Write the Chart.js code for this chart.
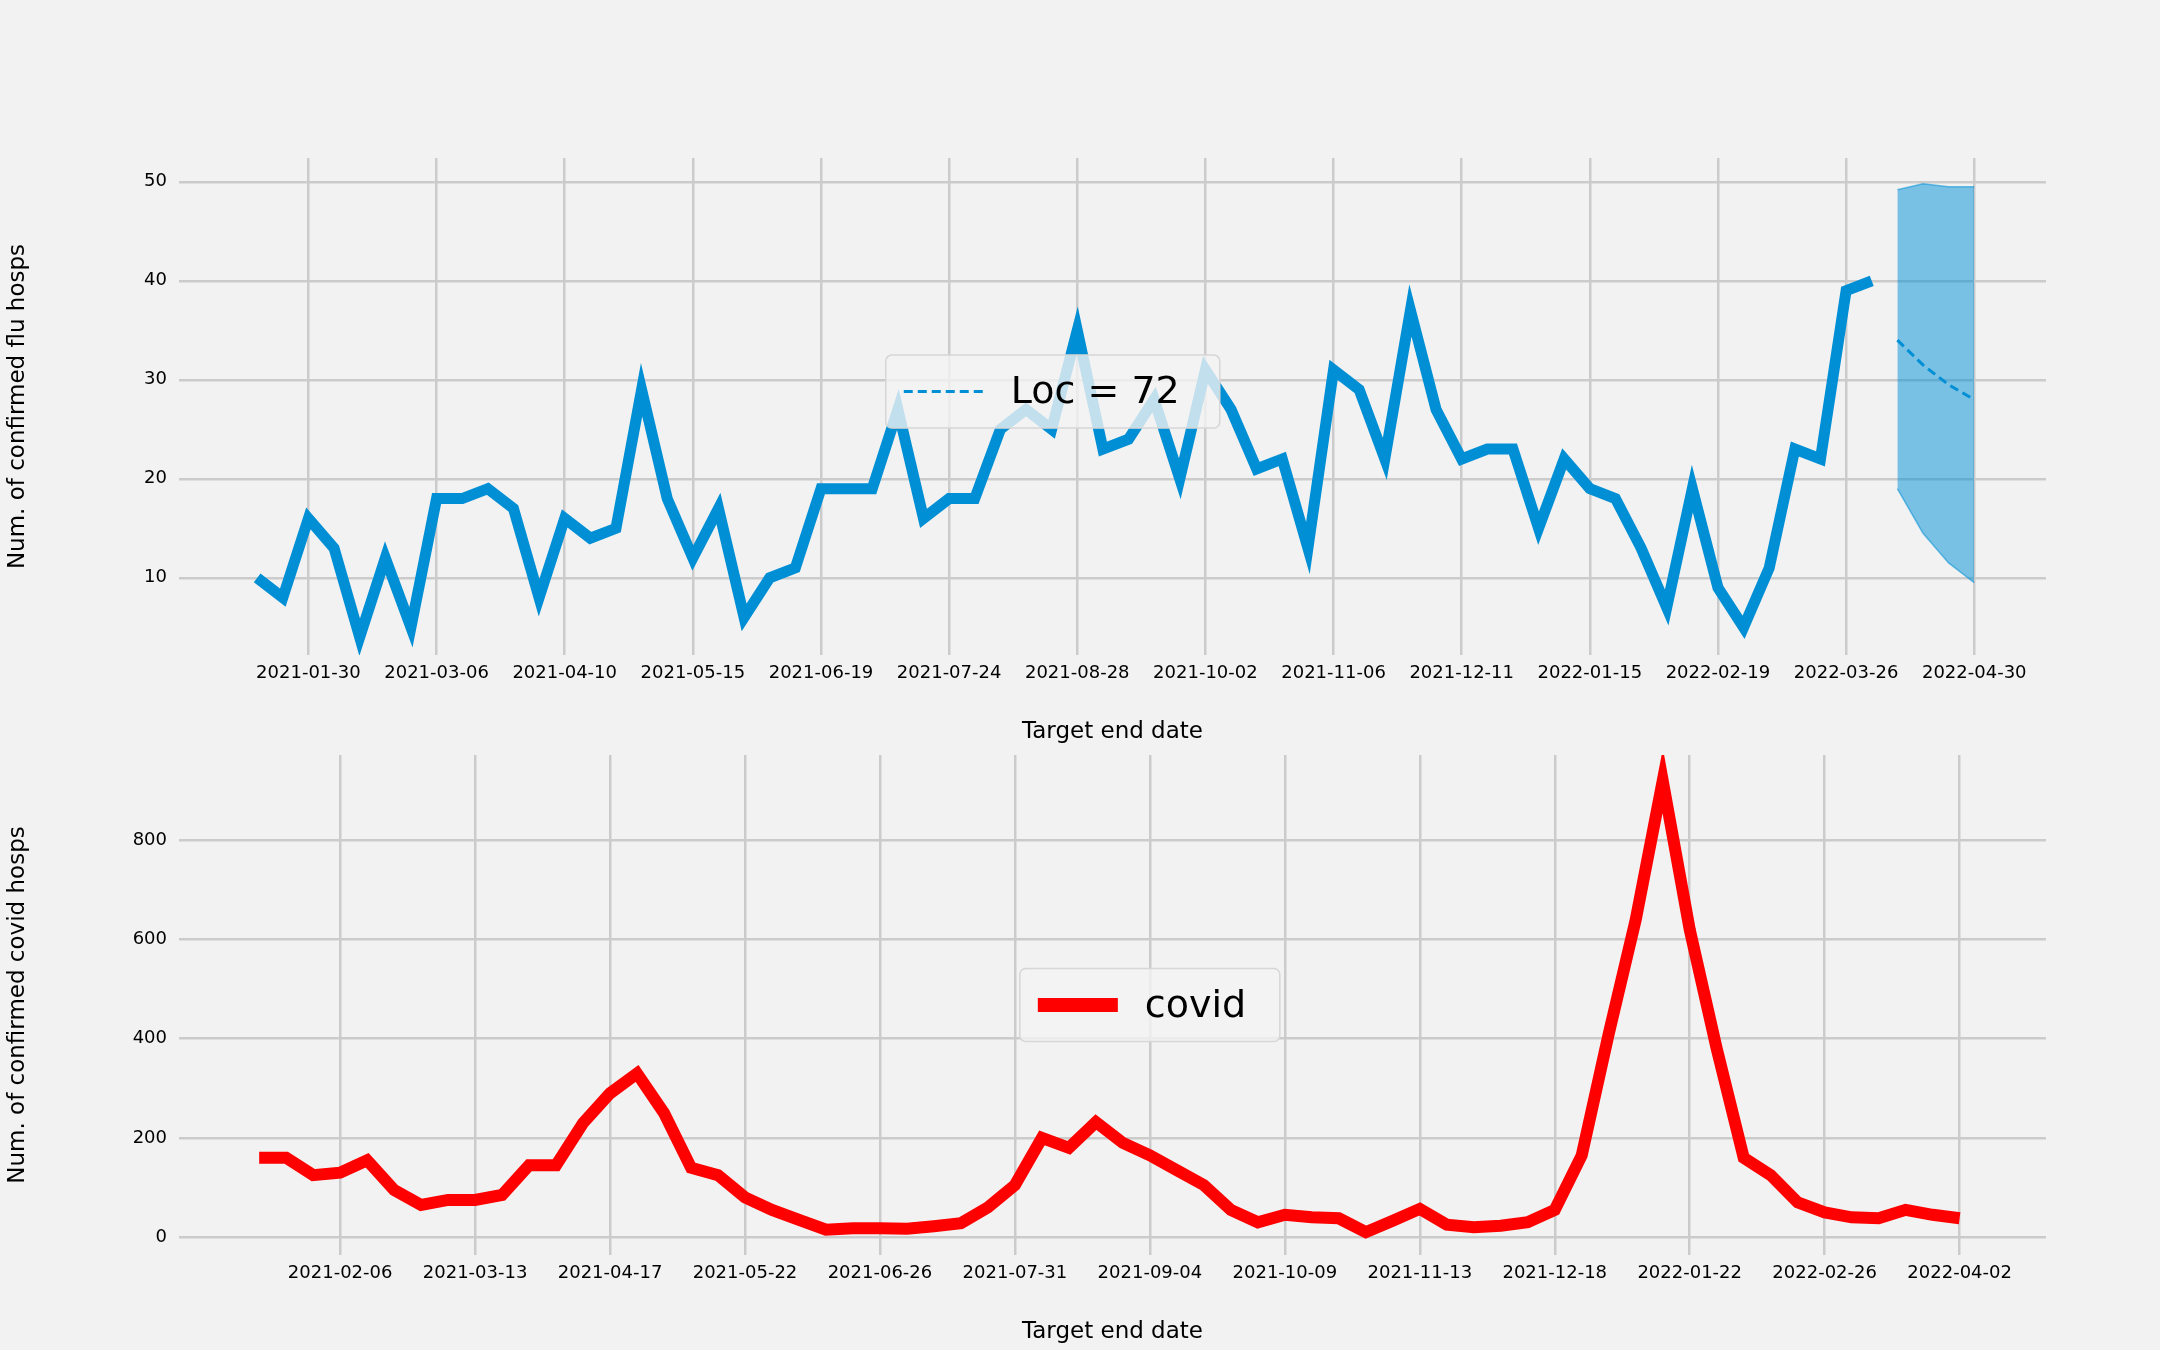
<!DOCTYPE html>
<html><head><meta charset="utf-8">
<script src="https://cdn.jsdelivr.net/npm/chart.js@4/dist/chart.umd.min.js"></script>
<style>
html,body{margin:0;padding:0;background:#f2f2f2;}
#wrap{position:relative;width:2160px;height:1350px;background:#f2f2f2;}
canvas{position:absolute;left:0;}
</style></head><body>
<div id="wrap">
<canvas id="c1" style="top:0" width="2160" height="750"></canvas>
<canvas id="c2" style="top:600px" width="2160" height="750"></canvas>
</div>
<script>
const fluTickLabels = ["2021-01-30","2021-03-06","2021-04-10","2021-05-15","2021-06-19","2021-07-24","2021-08-28","2021-10-02","2021-11-06","2021-12-11","2022-01-15","2022-02-19","2022-03-26","2022-04-30"];
const covidTickLabels = ["2021-02-06","2021-03-13","2021-04-17","2021-05-22","2021-06-26","2021-07-31","2021-09-04","2021-10-09","2021-11-13","2021-12-18","2022-01-22","2022-02-26","2022-04-02"];
const fluValues = [10,8,16,13,4,12,5,18,18,19,17,8,16,14,15,29,18,12,17,6,10,11,19,19,19,27,16,18,18,25,27,25,35,23,24,28,20,31,27,21,22,13,31,29,22,37,27,22,23,23,15,22,19,18,13,7,19,9,5,11,23,22,39,40];
const fcMedian = [34,31.5,29.5,28];
const fcLower = [19,14.5,11.5,9.5];
const fcUpper = [49.2,49.8,49.5,49.5];
const covidValues = [160,160,125,130,155,95,65,75,75,85,145,145,230,290,330,250,140,125,80,55,35,15,18,18,17,22,28,60,105,200,180,232,190,165,135,105,55,30,45,40,38,10,33,57,25,20,23,30,55,165,410,640,920,620,380,160,125,70,50,40,38,55,45,38];

const FONT = "'DejaVu Sans'";
Chart.defaults.font.family = FONT;
Chart.defaults.color = '#000';

function legendPlugin(cfg){
  return {id:'lg'+cfg.text, afterDatasetsDraw(chart){
    const ctx = chart.ctx, a = chart.chartArea;
    const x0 = chart.scales.x.left + cfg.cx*(a.right-a.left) - cfg.w/2;
    const y0 = a.top + cfg.cy*(a.bottom-a.top) - cfg.h/2;
    ctx.save();
    ctx.fillStyle='rgba(242,242,242,0.8)'; ctx.strokeStyle='#d6d6d6'; ctx.lineWidth=1.5;
    ctx.beginPath(); ctx.roundRect(x0,y0,cfg.w,cfg.h,6); ctx.fill(); ctx.stroke();
    ctx.strokeStyle=cfg.color; ctx.lineWidth=cfg.lw; ctx.setLineDash(cfg.dash||[]);
    ctx.beginPath(); ctx.moveTo(x0+18,y0+cfg.h/2); ctx.lineTo(x0+18+80,y0+cfg.h/2); ctx.stroke();
    ctx.setLineDash([]);
    ctx.fillStyle='#000'; ctx.font='38px '+FONT; ctx.textBaseline='middle';
    ctx.fillText(cfg.text, x0+125, y0+cfg.h/2+2);
    ctx.restore();
  }};
}

function makeChart(id, datasets, xmin, xmax, xticks, xlabels, ymin, ymax, ystep, ytitle, legend){
  new Chart(document.getElementById(id), {
    type:'line',
    data:{datasets},
    options:{
      responsive:false, animation:false,
      layout:{padding:{top:id==='c1'?158:155, right:114, left:0, bottom:0}},
      plugins:{legend:{display:false}, tooltip:{enabled:false}},
      elements:{point:{radius:0}},
      scales:{
        x:{type:'linear', min:xmin, max:xmax,
          afterBuildTicks:s=>{s.ticks = xticks.map(v=>({value:v}));},
          afterFit:s=>{s.height = id==='c1'?95:95;},
          ticks:{autoSkip:false, maxRotation:0, font:{size:18}, padding:8, callback:(v,i)=>xlabels[i]},
          grid:{color:'#cbcbcb', lineWidth:2.5, drawTicks:false},
          border:{display:false},
          title:{display:true, text:'Target end date', font:{size:23}, padding:{top:6}}
        },
        y:{min:ymin, max:ymax,
          afterBuildTicks:s=>{const t=[];for(let v=ystep.start;v<=ystep.end;v+=ystep.step)t.push({value:v});s.ticks=t;},
          afterFit:s=>{s.width=179;},
          ticks:{font:{size:18}, padding:12},
          grid:{color:'#cbcbcb', lineWidth:2.5, drawTicks:false},
          border:{display:false},
          title:{display:true, text:ytitle, font:{size:23}, padding:{bottom:4}}
        }
      }
    },
    plugins:[legendPlugin(legend)]
  });
}

const fluData = fluValues.map((v,i)=>({x:i-2,y:v}));
const fcX = [62,63,64,65];
makeChart('c1', [
  {data:fcUpper.map((v,i)=>({x:fcX[i],y:v})), borderColor:'rgba(0,143,213,0.55)', borderWidth:1.5, fill:'+1', backgroundColor:'rgba(0,143,213,0.5)', tension:0},
  {data:fcLower.map((v,i)=>({x:fcX[i],y:v})), borderColor:'rgba(0,143,213,0.55)', borderWidth:1.5, fill:false},
  {data:fcMedian.map((v,i)=>({x:fcX[i],y:v})), borderColor:'#008fd5', borderWidth:3, borderDash:[9,5], fill:false},
  {data:fluData, borderColor:'#008fd5', borderWidth:11, fill:false, borderCapStyle:'butt', borderJoinStyle:'miter'}
], -5.05, 67.8, fluTickLabels.map((_,i)=>i*5), fluTickLabels, 2.2, 52.4, {start:10,end:50,step:10},
'Num. of confirmed flu hosps', {cx:0.468, cy:0.47, w:334, h:73, color:'#008fd5', lw:3, dash:[9,5], text:'Loc = 72'});

const covidData = covidValues.map((v,i)=>({x:i-3,y:v}));
makeChart('c2', [
  {data:covidData, borderColor:'#ff0000', borderWidth:12, fill:false, borderJoinStyle:'miter'}
], -5.97, 63.2, covidTickLabels.map((_,i)=>i*5), covidTickLabels, -36, 972, {start:0,end:800,step:200},
'Num. of confirmed covid hosps', {cx:0.52, cy:0.5, w:260, h:73, color:'#ff0000', lw:14, text:'covid'});
</script>
</body></html>
